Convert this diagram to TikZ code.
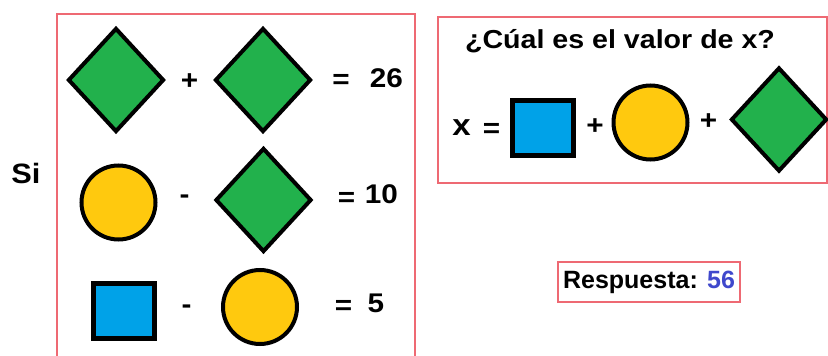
\documentclass[tikz,border=0pt]{standalone}
\usepackage{fontspec}
\setmainfont{Liberation Sans}
\newfontfamily\anchafont{Liberation Sans}[FakeStretch=1.1]
\usepackage{xcolor}
\usetikzlibrary{shapes.geometric}
\definecolor{verde}{RGB}{34,177,76}
\definecolor{amarillo}{RGB}{255,201,14}
\definecolor{azul}{RGB}{0,162,232}
\definecolor{rojo}{RGB}{238,105,115}
\definecolor{indigo}{RGB}{63,72,204}

\begin{document}
\begin{tikzpicture}[x=1pt,y=-1pt,
    rombo/.style={diamond, draw=black, line width=4pt, fill=verde, minimum width=96pt, minimum height=104pt, inner sep=0pt},
    circulo/.style={circle, draw=black, line width=4pt, fill=amarillo, minimum size=74pt, inner sep=0pt},
    cuadro/.style={rectangle, draw=black, line width=5pt, fill=azul, minimum width=61pt, minimum height=55pt, inner sep=0pt},
    signo/.style={font={\anchafont\bfseries\fontsize{27pt}{30pt}\selectfont}, anchor=base, inner sep=0pt},
    marco/.style={draw=rojo, line width=1.3pt}]
  \useasboundingbox (0,0) rectangle (828,356);
  % ---------- frames ----------
  \draw[marco] (57,358) |- (415,14) -- (415,358);
  \draw[marco] (438,17) rectangle (827,183);
  \node[signo, font={\anchafont\bfseries\fontsize{28pt}{30pt}\selectfont}] (si) at (26,183) {Si};
  % ---------- first row ----------
  \node[rombo] (r1) at (116,80) {};
  \node[signo] (mas1) at (189.5,89.5) {+};
  \node[rombo] (r2) at (263,80) {};
  \node[signo] (ig1) at (341,88) {=};
  \node[signo] (v1) at (386.5,87) {26};
  % ---------- second row ----------
  \node[circulo] (c1) at (118.5,202.5) {};
  \node[signo] (men1) at (184.5,203) {-};
  \node[rombo] (r3) at (263.5,200) {};
  \node[signo] (ig2) at (346.5,206) {=};
  \node[signo] (v2) at (381.5,203) {10};
  % ---------- third row ----------
  \node[cuadro] (s1) at (124,311) {};
  \node[signo] (men2) at (186.5,313) {-};
  \node[circulo] (c2) at (260,307) {};
  \node[signo] (ig3) at (343.5,314.5) {=};
  \node[signo] (v3) at (376,312) {5};
  % ---------- question ----------
  \node[signo, font={\anchafont\bfseries\fontsize{26pt}{30pt}\selectfont}] (preg) at (620,48) {¿Cúal es el valor de x?};
  \node[signo, font={\anchafont\bfseries\fontsize{30pt}{30pt}\selectfont}] (x) at (461.5,135) {x};
  \node[signo] (ig4) at (491.5,137) {=};
  \node[cuadro] (s2) at (543,127.5) {};
  \node[signo] (mas2) at (595,134) {+};
  \node[circulo] (c3) at (650.5,122.5) {};
  \node[signo] (mas3) at (708.5,129) {+};
  \node[rombo] (r4) at (779,119.5) {};
  % ---------- answer ----------
  \node[marco, minimum width=182pt, minimum height=40pt, inner sep=0pt,
        font={\bfseries\fontsize{25pt}{28pt}\selectfont}] (resp) at (649,282)
       {Respuesta: \textcolor{indigo}{56}};
\end{tikzpicture}
\end{document}
